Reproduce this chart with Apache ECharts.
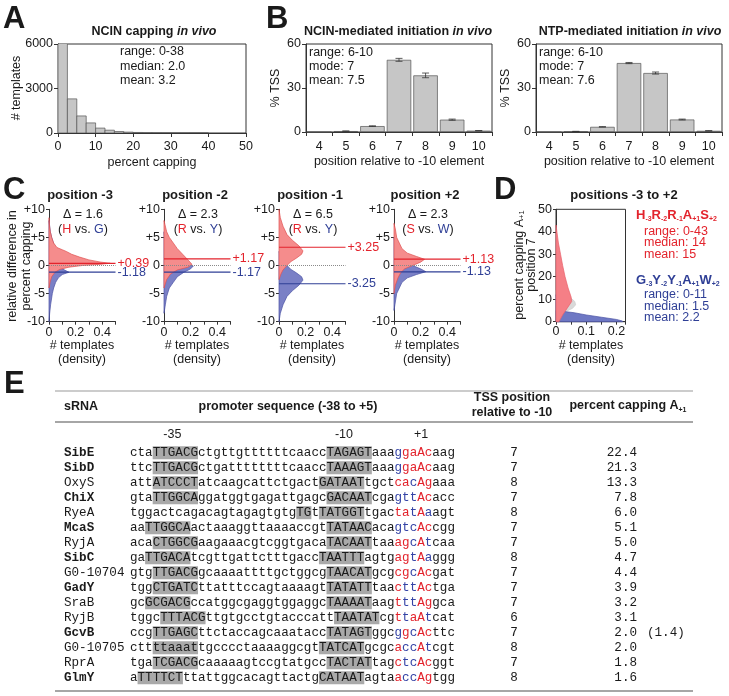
<!DOCTYPE html>
<html><head><meta charset="utf-8">
<script src="https://cdn.jsdelivr.net/npm/echarts@6/dist/echarts.min.js"></script>
<style>html,body{margin:0;padding:0;background:#fff}#c{width:729px;height:696px}</style>
</head><body><div id="c"></div>
<script>
// ================= DATA =================
// A: histogram of percent capping (bin starts, counts)
const histBinStarts = [0,2.5,5,7.5,10,12.5,15,17.5,20,22.5,25,27.5,30,32.5,35,37.5];
const histBinWidth = 2.5;
const histCounts = [6500,2300,1150,680,330,190,100,60,35,20,12,8,5,3,2,1];
const annA = ['range: 0-38','median: 2.0','mean: 3.2'];

// B: TSS position distributions
const tssPositions = ['4','5','6','7','8','9','10'];
const ncinTss = [0,0.6,4.0,49.2,38.6,8.4,0.9];
const ncinErr = [0,0.1,0.2,1.0,1.6,0.4,0.1];
const ntpTss  = [0,0.4,3.5,47.0,40.2,8.5,0.8];
const ntpErr  = [0,0.05,0.1,0.4,0.7,0.3,0.1];
const annB1 = ['range: 6-10','mode: 7','mean: 7.5'];
const annB2 = ['range: 6-10','mode: 7','mean: 7.6'];

// C: density of relative difference in percent capping ([density, value])
const cTitles = ['position -3','position -2','position -1','position +2'];
const cDelta  = ['1.6','2.3','6.5','2.3'];
const cFav = ['H','R','R','S'];
const cDis = ['G','Y','Y','W'];
const cFavMean = [0.39, 1.17, 3.25, 1.13];
const cDisMean = [-1.18, -1.17, -3.25, -1.13];
const cFavDensity = [
  [[0,8.5],[0.004,7],[0.01,6],[0.02,5],[0.035,4],[0.06,3.2],[0.1,2.8],[0.13,2.5],[0.17,2.0],[0.23,1.5],[0.3,1.0],[0.39,0.6],[0.46,0.4],[0.38,0.2],[0.25,0],[0.15,-0.3],[0.08,-0.7],[0.045,-1.2],[0.02,-2],[0.008,-3],[0,-4]],
  [[0,8],[0.02,6],[0.04,5],[0.07,4],[0.1,3],[0.14,2],[0.18,1],[0.2,0.5],[0.21,0.2],[0.18,-0.3],[0.1,-0.8],[0.05,-1.5],[0.02,-2.5],[0,-4]],
  [[0,10],[0.01,8.5],[0.03,7],[0.06,5.5],[0.1,4.5],[0.15,3.5],[0.18,2.6],[0.17,2.0],[0.13,1.3],[0.09,0.7],[0.06,0],[0.03,-0.8],[0.015,-1.5],[0,-2.5]],
  [[0,7.5],[0.01,6.5],[0.02,5],[0.04,4],[0.06,3],[0.1,2.2],[0.17,1.6],[0.23,1.1],[0.2,0.6],[0.14,0],[0.08,-0.6],[0.05,-1.3],[0.03,-2.2],[0.01,-3.5],[0,-5]]
];
const cDisDensity = [
  [[0,8],[0.01,6],[0.02,5],[0.04,3.5],[0.06,2],[0.075,0.5],[0.1,-0.6],[0.15,-1.2],[0.1,-1.6],[0.07,-2.2],[0.05,-3],[0.035,-4],[0.025,-5],[0.012,-7],[0.005,-8.5],[0,-10]],
  [[0,6],[0.01,4],[0.03,2],[0.08,1],[0.15,0.5],[0.22,-0.1],[0.2,-0.6],[0.15,-1.2],[0.1,-2],[0.07,-3],[0.04,-4],[0.02,-5.5],[0.01,-7],[0,-8.5]],
  [[0,2.5],[0.015,1.5],[0.03,0.8],[0.06,0],[0.09,-0.7],[0.13,-1.3],[0.17,-2.0],[0.18,-2.6],[0.15,-3.5],[0.1,-4.5],[0.06,-5.5],[0.03,-7],[0.01,-8.5],[0,-10]],
  [[0,5],[0.01,3.5],[0.03,2.2],[0.05,1.3],[0.08,0.6],[0.14,0],[0.2,-0.6],[0.24,-1.1],[0.17,-1.6],[0.1,-2.2],[0.06,-3],[0.04,-4],[0.02,-5],[0.01,-6.5],[0,-8]]
];
const cTickLabels = ['0','0.2','0.4'];

// D: positions -3 to +2 ([density, percent capping])
const dFavDensity = [[0,43],[0.003,40],[0.008,35],[0.015,30],[0.022,25],[0.03,20],[0.04,15],[0.05,11],[0.052,9],[0.042,7],[0.032,5],[0.022,3],[0.014,1],[0.01,0]];
const dDisDensity = [[0,12],[0.005,10],[0.012,8],[0.02,6],[0.03,4.5],[0.06,4],[0.1,3],[0.15,2],[0.2,1],[0.22,0.3],[0.22,0]];
const dAllDensity = [[0.03,14],[0.045,11],[0.062,9],[0.065,7.5],[0.055,6],[0.04,5]];
const dFavMotif = ['H','-3','R','-2','R','-1','A','+1','S','+2'];
const dDisMotif = ['G','-3','Y','-2','Y','-1','A','+1','W','+2'];
const dFavStats = ['range: 0-43','median: 14','mean: 15'];
const dDisStats = ['range: 0-11','median: 1.5','mean: 2.2'];
const dTickLabels = ['0','0.1','0.2'];

// E: table
const sRNA = ['SibE','SibD','OxyS','ChiX','RyeA','McaS','RyjA','SibC','G0-10704','GadY','SraB','RyjB','GcvB','G0-10705','RprA','GlmY'];
const sRNABold = [1,1,0,1,0,1,0,1,0,1,0,0,1,0,0,1];
const promoters = [
  'cta[TTGACG]ctgttgttttttcaacc[TAGAGT]aaaggaAcaag',
  'ttc[TTGACG]ctgattttttttcaacc[TAAAGT]aaaggaAcaag',
  'att[ATCCCT]atcaagcattctgact[GATAAT]tgctcacAgaaa',
  'gta[TTGGCA]ggatggtgagattgagc[GACAAT]cgagttAcacc',
  'tggactcagacagtagagtgtg[TG]t[TATGGT]tgactatAaagt',
  'aa[TTGGCA]actaaaggttaaaaccgt[TATAAC]acagtcAccgg',
  'aca[CTGGCG]aagaaacgtcggtgaca[TACAAT]taaagcAtcaa',
  'ga[TTGACA]tcgttgattctttgacc[TAATTT]agtgagtAaggg',
  'gtg[TTGACG]gcaaaattttgctggcg[TAACAT]gcgcgcAcgat',
  'tgg[CTGATC]ttatttccagtaaaagt[TATATT]taacttActga',
  'gc[GCGACG]ccatggcgaggtggaggc[TAAAAT]aagtttAggca',
  'tggc[TTTACG]ttgtgcctgtacccatt[TAATAT]cgttaAtcat',
  'ccg[TTGAGC]ttctaccagcaaatacc[TATAGT]ggcggcActtc',
  'ctt[ttaaat]tgcccctaaaaggcgt[TATCAT]gcgcaccAtcgt',
  'tga[TCGACG]caaaaagtccgtatgcc[TACTAT]tagctcAcggt',
  'a[TTTTCT]ttattggcacagttactg[CATAAT]agtaaccAgtgg'
];
// colours of positions -3,-2,-1,+1,+2 (r = red, b = blue)
const motifColors = ['brrrr','brrrr','rrbrr','bbbrr','rrbrb','bbbrr','rrbrb','rrbrb','rrbrr','rbbrr','rbbrr','rbrrb','brbrr','rbbrb','rbbrr','rbbrr'];
const tssRel = ['7','7','8','7','8','7','7','8','7','7','7','6','7','8','7','8'];
const capping = ['22.4','21.3','13.3','7.8','6.0','5.1','5.0','4.7','4.4','3.9','3.2','3.1','2.0','2.0','1.8','1.6'];
const cappingNote = ['','','','','','','','','','','','','(1.4)','','',''];
const seqMarks = [['-35',5.6],['-10',28.3],['+1',38.5]];

// ================= STYLE / LAYOUT =================
const FONT = "'Liberation Sans', Arial, Helvetica, sans-serif";
const MONO = "'Liberation Mono', 'Courier New', monospace";
const RED = '#e3232c', BLUE = '#2f3f96', INK = '#1a1a1a', AX = '#333';
const G = [];
function txt(x, y, text, o) {
  o = o || {};
  G.push({type:'text', x:x, y:y, rotation:o.rot||0, silent:true, z:50,
    style:{text:text, fill:o.color||INK, fontSize:o.size||12.5, fontFamily:o.family||FONT,
      fontWeight:o.weight||'normal', fontStyle:o.fstyle||'normal', align:o.align||'left',
      verticalAlign:o.va||'middle', lineHeight:o.lh, rich:o.rich}});
}
function hline(x1, x2, y, color, w) {
  G.push({type:'line', silent:true, shape:{x1:x1,y1:y,x2:x2,y2:y}, style:{stroke:color||'#888', lineWidth:w||1.3}});
}
function axisBase(extra) {
  return Object.assign({
    axisLine:{show:true, onZero:false, lineStyle:{color:AX, width:1}},
    axisTick:{show:true, length:4, lineStyle:{color:AX, width:1}},
    axisLabel:{color:INK, fontSize:12.5, fontFamily:FONT, margin:5},
    splitLine:{show:false}
  }, extra);
}
const plain = v => String(v);

const grids = [], xAxes = [], yAxes = [], series = [];
// grid 0 : A
grids.push({left:58, top:44, width:188, height:89, show:true, borderColor:AX, borderWidth:1});
// grid 1,2 : B
grids.push({left:306, top:44, width:186, height:88, show:true, borderColor:AX, borderWidth:1});
grids.push({left:536, top:44, width:186, height:88, show:true, borderColor:AX, borderWidth:1});
// grid 3..6 : C
const cX0 = [49, 164, 279, 394];
cX0.forEach(x => grids.push({left:x, top:209.3, width:66.5, height:112.4}));
// grid 7 : D
grids.push({left:556, top:209.3, width:69.5, height:112.4, show:true, borderColor:AX, borderWidth:1});

// ---- A ----
xAxes.push(axisBase({gridIndex:0, type:'value', min:0, max:50, interval:10, axisLabel:{color:INK,fontSize:12.5,fontFamily:FONT,margin:7,formatter:plain}}));
yAxes.push(axisBase({gridIndex:0, type:'value', min:0, max:6000, interval:3000, axisLabel:{color:INK,fontSize:12.5,fontFamily:FONT,margin:5,formatter:plain}}));
series.push({type:'custom', xAxisIndex:0, yAxisIndex:0, clip:true, silent:true,
  data: histBinStarts.map((s,i)=>[s, s+histBinWidth, histCounts[i]]), encode:{x:[0,1], y:2},
  renderItem:(p, api)=>{ const a=api.coord([api.value(0),0]), b=api.coord([api.value(1),api.value(2)]);
    return {type:'rect', shape:{x:a[0], y:b[1], width:b[0]-a[0], height:a[1]-b[1]}, style:{fill:'#c6c6c6', stroke:'#555', lineWidth:0.7}}; }});

// ---- B ----
function bPanel(gi, vals, errs) {
  xAxes.push(axisBase({gridIndex:gi, type:'category', data:tssPositions, boundaryGap:true,
    axisTick:{show:true, length:4, alignWithLabel:false, lineStyle:{color:AX}},
    axisLabel:{color:INK,fontSize:12.5,fontFamily:FONT,margin:8}}));
  yAxes.push(axisBase({gridIndex:gi, type:'value', min:0, max:60, interval:30}));
  series.push({type:'bar', xAxisIndex:gi, yAxisIndex:gi, data:vals, barCategoryGap:'8%', silent:true,
    itemStyle:{color:'#c6c6c6', borderColor:'#555', borderWidth:0.7}});
  series.push({type:'custom', xAxisIndex:gi, yAxisIndex:gi, silent:true, z:5,
    data: vals.map((v,i)=>[i, v, errs[i]]), encode:{x:0, y:1},
    renderItem:(p, api)=>{ const i=api.value(0), v=api.value(1), e=api.value(2); if(!e) return null;
      const t=api.coord([i, v+e]), b=api.coord([i, v-e]), w=3.5, st={stroke:'#333', lineWidth:0.8};
      return {type:'group', children:[
        {type:'line', shape:{x1:t[0],y1:t[1],x2:b[0],y2:b[1]}, style:st},
        {type:'line', shape:{x1:t[0]-w,y1:t[1],x2:t[0]+w,y2:t[1]}, style:st},
        {type:'line', shape:{x1:b[0]-w,y1:b[1],x2:b[0]+w,y2:b[1]}, style:st}]}; }});
}
bPanel(1, ncinTss, ncinErr);
bPanel(2, ntpTss, ntpErr);

// ---- density polygons ----
function areaSeries(gi, pts, fill, stroke) {
  return {type:'custom', xAxisIndex:gi, yAxisIndex:gi, silent:true, data:pts, encode:{x:0, y:1},
    renderItem:(params, api)=>{ if(params.dataIndex!==0) return null;
      const poly=[api.coord([0, pts[0][1]])].concat(pts.map(p=>api.coord(p)), [api.coord([0, pts[pts.length-1][1]])]);
      return {type:'polygon', shape:{points:poly}, style:{fill:fill, stroke:stroke, lineWidth:0.7, blend:'multiply'}}; }};
}
const shownLabel = (list) => (v) => { for (const s of list) if (Math.abs(v-parseFloat(s))<1e-9) return s; return ''; };

// ---- C ----
for (let i=0;i<4;i++) {
  const gi = 3+i;
  xAxes.push(axisBase({gridIndex:gi, type:'value', min:0, max:0.5, interval:0.1,
    axisTick:{show:true, length:3, lineStyle:{color:AX}},
    axisLabel:{color:INK,fontSize:12.5,fontFamily:FONT,margin:4, formatter:shownLabel(cTickLabels)}}));
  yAxes.push(axisBase({gridIndex:gi, type:'value', min:-10, max:10, interval:5,
    axisTick:{show:true, length:3, lineStyle:{color:AX}},
    axisLabel:{color:INK,fontSize:12.5,fontFamily:FONT,margin:4, formatter:v=> v>0?('+'+v):String(v)}}));
  series.push(areaSeries(gi, cDisDensity[i], '#7a80c6', '#4a52a4'));
  series.push(areaSeries(gi, cFavDensity[i], '#f58c8c', '#e05050'));
  series.push({type:'line', xAxisIndex:gi, yAxisIndex:gi, silent:true, data:[[0,0],[0.5,0]], symbol:'none', z:6,
    lineStyle:{color:'#8a8a8a', width:1, type:'dotted'}});
  [[cFavMean[i], RED],[cDisMean[i], BLUE]].forEach(([m,col])=>{
    series.push({type:'line', xAxisIndex:gi, yAxisIndex:gi, silent:true, data:[[0,m],[0.5,m]], symbol:'none', z:7,
      lineStyle:{color:col, width:1.2},
      endLabel:{show:true, formatter:(m>0?'+':'')+m.toFixed(2), color:col, fontSize:12.5, fontFamily:FONT, distance:2}});
  });
}

// ---- D ----
xAxes.push(axisBase({gridIndex:7, type:'value', min:0, max:0.23, interval:0.05,
  axisTick:{show:true, length:3, lineStyle:{color:AX}},
  axisLabel:{color:INK,fontSize:12.5,fontFamily:FONT,margin:3, formatter:shownLabel(dTickLabels)}}));
yAxes.push(axisBase({gridIndex:7, type:'value', min:0, max:50, interval:10,
  axisTick:{show:true, length:3, lineStyle:{color:AX}},
  axisLabel:{color:INK,fontSize:12.5,fontFamily:FONT,margin:4}}));
series.push(areaSeries(7, dAllDensity, '#d9d9d9', '#cccccc'));
series.push(areaSeries(7, dDisDensity, '#6e78c4', '#4a52a4'));
series.push(areaSeries(7, dFavDensity, '#f57f86', '#e8606a'));

// ================= TEXT (graphic) =================
const BIG = {size:31, weight:'bold', va:'middle'};
txt(3, 19, 'A', BIG); txt(266, 19, 'B', BIG); txt(3, 190, 'C', BIG); txt(494, 190, 'D', BIG); txt(4, 384, 'E', BIG);

const titleRich = {b:{fontSize:12.5, fontWeight:'bold', fontFamily:FONT, fill:INK}, i:{fontSize:12.5, fontWeight:'bold', fontStyle:'italic', fontFamily:FONT, fill:INK}};
txt(154, 32, '{b|NCIN capping }{i|in vivo}', {align:'center', rich:titleRich});
txt(398, 32, '{b|NCIN-mediated initiation }{i|in vivo}', {align:'center', rich:titleRich});
txt(630, 32, '{b|NTP-mediated initiation }{i|in vivo}', {align:'center', rich:titleRich});

annA.forEach((s,i)=>txt(120, 52+14.5*i, s, {size:12.5}));
annB1.forEach((s,i)=>txt(309, 53+14*i, s, {size:12.5}));
annB2.forEach((s,i)=>txt(539, 53+14*i, s, {size:12.5}));

txt(17, 88, '# templates', {rot:Math.PI/2, align:'center'});
txt(152, 163, 'percent capping', {align:'center'});
txt(276, 88, '% TSS', {rot:Math.PI/2, align:'center'});
txt(399, 162, 'position relative to -10 element', {align:'center'});
txt(506, 88, '% TSS', {rot:Math.PI/2, align:'center'});
txt(629, 162, 'position relative to -10 element', {align:'center'});

// C texts
txt(20, 266, 'relative difference in\npercent capping', {rot:Math.PI/2, align:'center', lh:14});
const vsRich = {k:{fill:INK, fontSize:12.5, fontFamily:FONT}, r:{fill:RED, fontSize:12.5, fontFamily:FONT}, b:{fill:BLUE, fontSize:12.5, fontFamily:FONT}};
for (let i=0;i<4;i++) {
  const x0 = cX0[i];
  txt(x0+31, 195, cTitles[i], {align:'center', weight:'bold', size:13});
  txt(x0+34, 215, '\u0394 = '+cDelta[i], {align:'center'});
  txt(x0+34, 229.5, '{k|(}{r|'+cFav[i]+'}{k| vs. }{b|'+cDis[i]+'}{k|)}', {align:'center', rich:vsRich});
  txt(x0+33, 345.5, '# templates', {align:'center'});
  txt(x0+33, 360, '(density)', {align:'center'});
}

// D texts
txt(624, 195, 'positions -3 to +2', {align:'center', weight:'bold', size:13});
const axRich = {k:{fill:INK, fontSize:12.5, fontFamily:FONT, lineHeight:12}, s:{fill:INK, fontSize:7.5, fontFamily:FONT, verticalAlign:'bottom', lineHeight:12}};
txt(526, 265, '{k|percent capping A}{s|+1}\n{k|position 7}', {rot:Math.PI/2, align:'center', rich:axRich});
txt(591, 345.5, '# templates', {align:'center'});
txt(591, 360, '(density)', {align:'center'});
function motifRich(m, col) {
  let s=''; for (let i=0;i<m.length;i+=2) s += '{m|'+m[i]+'}{s|'+m[i+1]+'}';
  return {text:s, rich:{m:{fill:col, fontSize:13, fontWeight:'bold', fontFamily:FONT, lineHeight:15},
                       s:{fill:col, fontSize:7, fontWeight:'bold', fontFamily:FONT, verticalAlign:'bottom', lineHeight:15}}};
}
const mf = motifRich(dFavMotif, RED), md = motifRich(dDisMotif, BLUE);
txt(636, 215, mf.text, {rich:mf.rich});
dFavStats.forEach((s,i)=>txt(644, 231.5+11.5*i, s, {color:RED, size:12.5}));
txt(636, 280, md.text, {rich:md.rich});
dDisStats.forEach((s,i)=>txt(644, 295+11.5*i, s, {color:BLUE, size:12.5}));

// E table
hline(55, 693, 391, '#9a9a9a', 1.2);
hline(55, 693, 422, '#888', 1.4);
hline(55, 693, 691, '#888', 1.4);
txt(64, 407, 'sRNA', {weight:'bold'});
txt(288, 407, 'promoter sequence (-38 to +5)', {weight:'bold', align:'center'});
txt(512, 398, 'TSS position', {weight:'bold', align:'center'});
txt(512, 413, 'relative to -10', {weight:'bold', align:'center'});
txt(628, 406, '{b|percent capping A}{s|+1}', {align:'center', rich:{b:{fontSize:12.5, fontWeight:'bold', fontFamily:FONT, fill:INK, lineHeight:15}, s:{fontSize:7, fontWeight:'bold', fontFamily:FONT, fill:INK, verticalAlign:'bottom', lineHeight:15}}});

const SEQX = 130, CW = 7.56, MS = 12.6;
seqMarks.forEach(([t,c])=>txt(SEQX + c*CW, 435, t, {align:'center', size:12.5}));
const seqRichStyles = {
  n:{fill:INK, fontFamily:MONO, fontSize:MS, lineHeight:13},
  h:{fill:INK, fontFamily:MONO, fontSize:MS, lineHeight:13, backgroundColor:'#a9a9a9'},
  r:{fill:RED, fontFamily:MONO, fontSize:MS, lineHeight:13},
  b:{fill:'#3443a6', fontFamily:MONO, fontSize:MS, lineHeight:13}
};
function seqRich(seq, colors) {
  const chars=[]; let hl=false;
  for (const ch of seq) { if (ch==='[') {hl=true; continue;} if (ch===']') {hl=false; continue;} chars.push({ch:ch, hl:hl}); }
  let out='', cur=null, buf='';
  chars.forEach((c,i)=>{ let st = c.hl ? 'h' : 'n'; if (!c.hl && i>=35 && i<=39) st = colors[i-35];
    if (st!==cur) { if (buf) out += '{'+cur+'|'+buf+'}'; cur=st; buf=''; } buf += c.ch; });
  return out + '{'+cur+'|'+buf+'}';
}
sRNA.forEach((name,i)=>{
  const y = 452.7 + 15*i;
  txt(64, y, name, {family:MONO, size:MS, weight: sRNABold[i]?'bold':'normal'});
  txt(SEQX, y, seqRich(promoters[i], motifColors[i]), {rich:seqRichStyles});
  txt(514, y, tssRel[i], {family:MONO, size:MS, align:'center'});
  txt(637, y, capping[i], {family:MONO, size:MS, align:'right'});
  if (cappingNote[i]) txt(647, y, cappingNote[i], {family:MONO, size:MS});
});

const chart = echarts.init(document.getElementById('c'), null, {renderer:'canvas'});
chart.setOption({animation:false, backgroundColor:'#fff', grid:grids, xAxis:xAxes, yAxis:yAxes, series:series, graphic:{elements:G}});
</script></body></html>
